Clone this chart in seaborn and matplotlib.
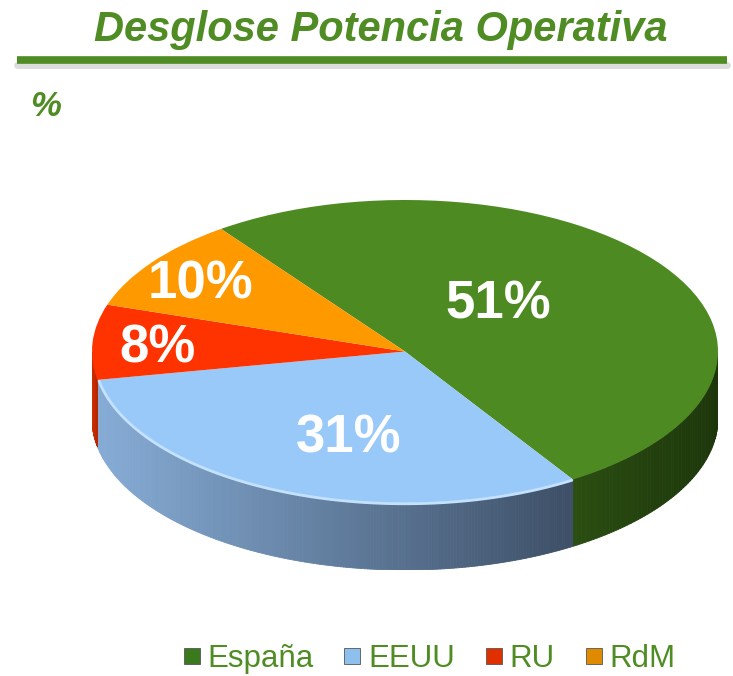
import numpy as np
import seaborn as sns
import matplotlib
matplotlib.use("Agg")
from matplotlib import pyplot as plt
from matplotlib.colors import to_rgb
from matplotlib.lines import Line2D

sns.set_theme(style="white")
plt.rcParams["font.family"] = ["Liberation Sans", "DejaVu Sans"]

# data
labels = ["España", "EEUU", "RU", "RdM"]
values = [51, 31, 8, 10]
pct_labels = ["51%", "31%", "8%", "10%"]

top_colors = ["#4d8a21", "#99c9f9", "#ff3300", "#ff9900"]
side_light = ["#2b4e12", "#86acd6", "#d23000", "#d07a00"]
side_dark = ["#1c360a", "#3d4f66", "#b82600", "#a86000"]
legend_colors = ["#3a7a1c", "#8ec0ee", "#e03000", "#e08a00"]
label_r = [0.43, 0.6, 0.79, 0.79]
label_shift = [12, 6, 2, 2]   # degrees, nudges the label off the wedge middle
title_green = "#4f8c23"

W, H = 733, 676
fig = plt.figure(figsize=(W / 100, H / 100), dpi=100)

# title, rule and unit
fig.text(381 / W, 1 - 30 / H, "Desglose Potencia Operativa", ha="center", va="center",
         fontsize=30, fontweight="bold", fontstyle="italic", color=title_green)
fig.add_artist(Line2D([17 / W, 727 / W], [1 - 65 / H, 1 - 65 / H], lw=5, color="#bbbbbb", alpha=0.5))
fig.add_artist(Line2D([17 / W, 727 / W], [1 - 60 / H, 1 - 60 / H], lw=5.5, color=title_green,
                      solid_capstyle="butt"))
fig.text(30 / W, 1 - 106 / H, "%", ha="left", va="center", fontsize=25,
         fontweight="bold", fontstyle="italic", color=title_green)

# pie: ellipse box in pixels
x0, x1, y_top, y_face, depth = 92, 718, 200, 503, 67
b_px = (y_face - y_top) / 2
d = depth / b_px
ax = fig.add_axes([x0 / W, (H - (y_face + depth)) / H, (x1 - x0) / W, (y_face + depth - y_top) / H])

start = 126.0
angles = start - np.cumsum([0] + values) / sum(values) * 360

# side of the disc (front half only)
for i in range(len(values)):
    a_hi, a_lo = angles[i], angles[i + 1]
    th = np.linspace(a_lo, a_hi, 200)
    keep = np.mod(th, 360) >= 180
    th = np.radians(th[keep])
    if len(th) < 2:
        continue
    cl, cd = np.array(to_rgb(side_light[i])), np.array(to_rgb(side_dark[i]))
    xs = np.cos(th)
    xmin, xmax = xs.min(), xs.max()
    for k in range(len(th) - 1):
        t0, t1 = th[k], th[k + 1]
        xm = (np.cos(t0) + np.cos(t1)) / 2
        f = (xm - xmin) / (xmax - xmin) if xmax > xmin else 0
        c = cl * (1 - f) + cd * f
        px = [np.cos(t0), np.cos(t1), np.cos(t1), np.cos(t0)]
        py = [np.sin(t0), np.sin(t1), np.sin(t1) - d, np.sin(t0) - d]
        ax.fill(px, py, color=c, lw=0.6, ec=c, zorder=1)

wedges, _ = ax.pie(values, colors=top_colors, startangle=start, counterclock=False,
                   radius=1, wedgeprops=dict(lw=0, zorder=2))

# soft highlight on the front rim of the blue slice
th = np.radians(np.linspace(angles[2], angles[1], 100))
th = th[np.mod(np.degrees(th), 360) >= 180]
ax.plot(np.cos(th) * 0.995, np.sin(th) * 0.995 - 0.01, color="#c4e2ff", lw=2, zorder=3)

for i, txt in enumerate(pct_labels):
    mid = np.radians((angles[i] + angles[i + 1]) / 2 + label_shift[i])
    ax.text(label_r[i] * np.cos(mid), label_r[i] * np.sin(mid), txt, ha="center", va="center",
            fontsize=38, fontweight="bold", color="white", zorder=4)

ax.set_aspect("auto")
ax.set_xlim(-1, 1)
ax.set_ylim(-1 - d, 1)
ax.axis("off")

handles = [Line2D([], [], marker="s", ls="", markersize=12, markerfacecolor=c,
                  markeredgecolor="#555555", markeredgewidth=0.6) for c in legend_colors]
leg = fig.legend(handles, labels, loc="center", bbox_to_anchor=(428 / W, 1 - 659 / H), ncol=4,
                 frameon=False, fontsize=22.5, handlelength=0.7, handletextpad=0.15,
                 columnspacing=0.9, borderpad=0)
for t in leg.get_texts():
    t.set_color(title_green)

fig.savefig("out.png", dpi=100)
